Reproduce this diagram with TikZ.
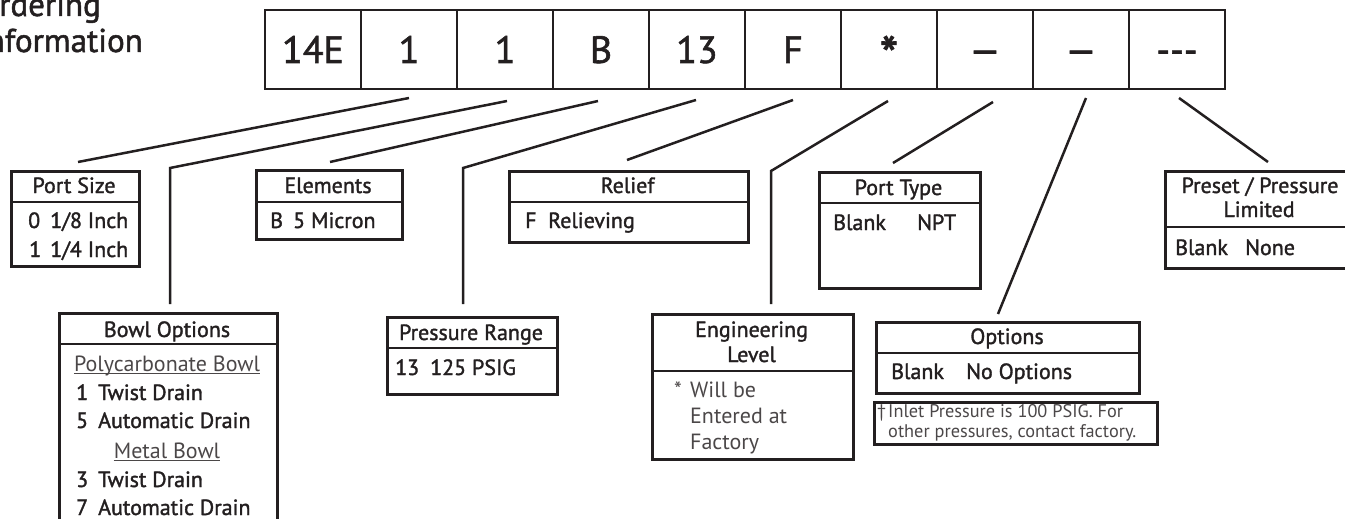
\documentclass[tikz,border=0pt]{standalone}
\usepackage{fontspec}
\setmainfont{PT Sans}
\newfontfamily\medf{PT Sans}[FakeBold=1.5]
\newfontfamily\litef{PT Sans}
\usetikzlibrary{calc}
\definecolor{ink}{RGB}{35,31,32}
\definecolor{lite}{RGB}{75,71,72}
\begin{document}
\begin{tikzpicture}[x=1pt,y=-1pt,
  cell/.style={draw=ink, line width=2.5pt, minimum width=96pt, minimum height=79pt,
    inner sep=0pt, text height=27pt, text depth=0pt, text=ink,
    font=\medf\fontsize{38}{40}\selectfont},
  frame/.style={draw=ink, line width=2.5pt, anchor=north west, inner sep=0pt},
  rule/.style={draw=ink, line width=2.5pt},
  link/.style={draw=ink, line width=2.5pt},
  under/.style={draw=lite, line width=1.1pt},
  hd/.style={anchor=base, inner sep=0pt, text=ink, font=\medf\fontsize{22}{24}\selectfont},
  row/.style={anchor=base west, inner sep=0pt, text=ink, font=\medf\fontsize{22}{24}\selectfont},
  lrow/.style={anchor=base west, inner sep=0pt, text=lite, font=\litef\fontsize{22}{24}\selectfont},
  lhd/.style={anchor=base, inner sep=0pt, text=lite, font=\litef\fontsize{22}{24}\selectfont},
  foot/.style={anchor=base west, inner sep=0pt, text=lite, font=\litef\fontsize{18.3}{20}\selectfont},
  title/.style={anchor=base east, inner sep=0pt, text=ink, font=\medf\fontsize{33}{36}\selectfont}
]
\useasboundingbox (0,0) rectangle (1345,519);
\clip (0,0) rectangle (1345,519);

% title
\node[title] (t1) at (101,16) {Ordering};
\node[title] (t2) at (143,52) {Information};

% code cells
\node[cell] (c1) at (313,49.5) {14E};
\node[cell] (c2) at (409,49.5) {1};
\node[cell] (c3) at (505,49.5) {1};
\node[cell] (c4) at (601,49.5) {B};
\node[cell] (c5) at (697,49.5) {13};
\node[cell] (c6) at (793,49.5) {F};
\node[cell] (c7) at (889,49.5) {\raisebox{-11.5pt}{\fontsize{54}{56}\selectfont *}};
\node[cell] (c8) at (985,49.5) {—};
\node[cell] (c9) at (1081,49.5) {—};
\node[cell] (c10) at (1177,49.5) {-{}-{}-};

% connector coordinates
\coordinate (s2) at (409,98);   \coordinate (e2) at (78,162);
\coordinate (s3) at (507,101);  \coordinate (b3) at (170,168); \coordinate (e3) at (170,304);
\coordinate (s4) at (598,101);  \coordinate (e4) at (330,162);
\coordinate (s5) at (696,100);  \coordinate (b5) at (463,168); \coordinate (e5) at (463,304);
\coordinate (s6) at (793,100);  \coordinate (e6) at (627,160);
\coordinate (s7) at (888,101);  \coordinate (b7) at (771,171); \coordinate (e7) at (771,304);
\coordinate (s8) at (993,102);  \coordinate (e8) at (893,163);
\coordinate (s9) at (1086,98);  \coordinate (e9) at (998,314);
\coordinate (s10) at (1179,98); \coordinate (e10) at (1268,162);

\draw[link] (s2) -- (e2);
\draw[link] (s3) -- (b3) -- (e3);
\draw[link] (s4) -- (e4);
\draw[link] (s5) -- (b5) -- (e5);
\draw[link] (s6) -- (e6);
\draw[link] (s7) -- (b7) -- (e7);
\draw[link] (s8) -- (e8);
\draw[link] (s9) -- (e9);
\draw[link] (s10) -- (e10);

% Port Size
\node[frame, minimum width=128pt, minimum height=95pt] (ps) at (10,170) {};
\draw[rule] (ps.west |- 0,202) -- (ps.east |- 0,202);
\node[hd] (psh) at (74,193) {Port Size};
\node[row] (ps1) at (28,228) {\makebox[22pt][l]{0}1/8 Inch};
\node[row] (ps2) at (29,257) {\makebox[21pt][l]{1}1/4 Inch};

% Elements
\node[frame, minimum width=146pt, minimum height=69pt] (el) at (255,169) {};
\draw[rule] (el.west |- 0,202) -- (el.east |- 0,202);
\node[hd] (elh) at (328,193) {Elements};
\node[row] (el1) at (270,228) {\makebox[23pt][l]{B}5 Micron};

% Relief
\node[frame, minimum width=239pt, minimum height=71pt] (rl) at (508,170) {};
\draw[rule] (rl.west |- 0,202) -- (rl.east |- 0,202);
\node[hd] (rlh) at (627.5,193) {Relief};
\node[row] (rl1) at (525,228) {\makebox[23pt][l]{F}Relieving};

% Port Type
\node[frame, minimum width=161pt, minimum height=116pt] (pt) at (818,171) {};
\draw[rule] (pt.west |- 0,203) -- (pt.east |- 0,203);
\node[hd] (pth) at (898.5,195) {Port Type};
\node[row] (pt1) at (833,230) {\makebox[84pt][l]{Blank}NPT};

% Preset / Pressure Limited
\node[frame, minimum width=192pt, minimum height=97pt] (pr) at (1164,170) {};
\draw[rule] (pr.west |- 0,227) -- (pr.east |- 0,227);
\node[hd] (prh1) at (1260,193) {Preset / Pressure};
\node[hd] (prh2) at (1259,217) {Limited};
\node[row] (pr1) at (1175,255) {\makebox[70pt][l]{Blank}None};

% Bowl Options
\node[frame, minimum width=218pt, minimum height=240pt] (bo) at (58,312) {};
\draw[rule] (bo.west |- 0,344) -- (bo.east |- 0,344);
\node[hd] (boh) at (167,337) {Bowl Options};
\node[lhd] (bo1) at (167,371) {Polycarbonate Bowl};
\draw[under] ([yshift=-2.5pt]bo1.base west) -- ([yshift=-2.5pt]bo1.base east);
\node[row] (bo2) at (76,400) {\makebox[22pt][l]{1}Twist Drain};
\node[row] (bo3) at (76,428) {\makebox[22pt][l]{5}Automatic Drain};
\node[lhd] (bo4) at (167,458) {Metal Bowl};
\draw[under] ([yshift=-2.5pt]bo4.base west) -- ([yshift=-2.5pt]bo4.base east);
\node[row] (bo5) at (76,487) {\makebox[22pt][l]{3}Twist Drain};
\node[row] (bo6) at (76,515) {\makebox[22pt][l]{7}Automatic Drain};

% Pressure Range
\node[frame, minimum width=170pt, minimum height=77pt] (pg) at (386,316) {};
\draw[rule] (pg.west |- 0,348) -- (pg.east |- 0,348);
\node[hd] (pgh) at (471,340) {Pressure Range};
\node[row] (pg1) at (395,375) {\makebox[35pt][l]{13}125 PSIG};

% Engineering Level
\node[frame, minimum width=201pt, minimum height=145pt] (en) at (651,313) {};
\draw[rule] (en.west |- 0,371) -- (en.east |- 0,371);
\node[hd] (enh1) at (751.5,337) {Engineering};
\node[hd] (enh2) at (751.5,362) {Level};
\node[lrow] (en1) at (674,397) {\makebox[16pt][l]{*}Will be};
\node[lrow] (en2) at (690,423) {Entered at};
\node[lrow] (en3) at (690,449) {Factory};

% Options
\node[frame, minimum width=263pt, minimum height=71pt] (op) at (875,321) {};
\draw[rule] (op.west |- 0,353) -- (op.east |- 0,353);
\node[hd] (oph) at (1007,344) {Options};
\node[row] (op1) at (891,379) {\makebox[75pt][l]{Blank}No Options};

% footnote
\node[frame, minimum width=283pt, minimum height=42pt] (fn) at (873,401) {};
\node[foot] (fn1) at (877,417) {\makebox[11pt][l]{†}Inlet Pressure is 100 PSIG. For};
\node[foot] (fn2) at (888,437.5) {other pressures, contact factory.};
\end{tikzpicture}
\end{document}
